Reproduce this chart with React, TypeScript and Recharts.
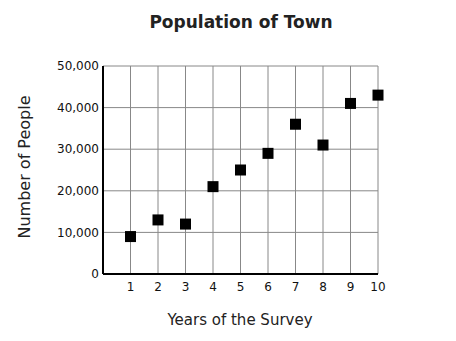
import React from 'react';
import { ScatterChart, Scatter, XAxis, YAxis, CartesianGrid } from 'recharts';

// survey years and town population
const years = [1, 2, 3, 4, 5, 6, 7, 8, 9, 10];
const population = [9000, 13000, 12000, 21000, 25000, 29000, 36000, 31000, 41000, 43000];
const yTicks = [0, 10000, 20000, 30000, 40000, 50000];

const data = years.map((year, i) => ({ year, people: population[i] }));

const FONT = '"DejaVu Sans", sans-serif';

const SquareDot = (props: any) => {
    const { cx, cy } = props;
    if (cx == null || cy == null) return null;
    return <rect x={cx - 5.5} y={cy - 5.5} width={11} height={11} fill="#000" />;
};

export default function App() {
    return (
        <div style={{ position: 'absolute', left: 0, top: 0, width: 456, height: 341, background: '#fff', fontFamily: FONT }}>
            <div style={{ position: 'absolute', left: 0, width: 482, top: 12, textAlign: 'center', fontSize: 17, fontWeight: 'bold', color: '#222' }}>
                Population of Town
            </div>
            <div
                style={{
                    position: 'absolute', left: 24, top: 167, fontSize: 16, color: '#222', whiteSpace: 'nowrap',
                    transform: 'translate(-50%, -50%) rotate(-90deg)'
                }}
            >
                Number of People
            </div>
            <div style={{ position: 'absolute', left: 0, width: 480, top: 311, textAlign: 'center', fontSize: 15, color: '#222' }}>
                Years of the Survey
            </div>
            <ScatterChart width={456} height={341} margin={{ top: 66, right: 78, bottom: 37, left: 43 }}>
                <CartesianGrid stroke="#888" strokeWidth={1} />
                <XAxis
                    type="number"
                    dataKey="year"
                    domain={[0, 10]}
                    ticks={years}
                    interval={0}
                    height={30}
                    axisLine={{ stroke: '#000', strokeWidth: 2 }}
                    tickLine={false}
                    tick={{ fontSize: 12, fill: '#111', fontFamily: FONT }}
                />
                <YAxis
                    type="number"
                    dataKey="people"
                    domain={[0, 50000]}
                    ticks={yTicks}
                    interval={0}
                    width={60}
                    axisLine={{ stroke: '#000', strokeWidth: 2 }}
                    tickLine={false}
                    tickSize={4}
                    tickMargin={0}
                    tick={{ fontSize: 12, fill: '#111', fontFamily: FONT }}
                    tickFormatter={(v: number) => v.toLocaleString('en-US')}
                />
                <Scatter data={data} shape={SquareDot} isAnimationActive={false} />
            </ScatterChart>
        </div>
    );
}
